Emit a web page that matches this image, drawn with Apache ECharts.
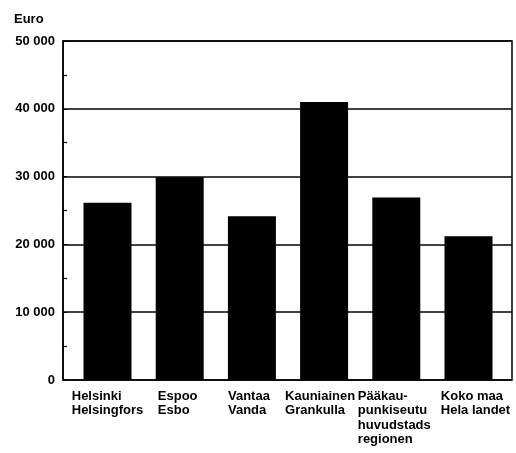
<!DOCTYPE html>
<html>
<head>
<meta charset="utf-8">
<script src="https://cdn.jsdelivr.net/npm/echarts@6/dist/echarts.min.js"></script>
<style>
html,body{margin:0;padding:0;background:#fff;}
#c{width:516px;height:453px;}
</style>
</head>
<body>
<div id="c"></div>
<script>
// Data
var categories = [
  'Helsinki\nHelsingfors',
  'Espoo\nEsbo',
  'Vantaa\nVanda',
  'Kauniainen\nGrankulla',
  'Pääkau-\npunkiseutu\nhuvudstads\nregionen',
  'Koko maa\nHela landet'
];
var values = [26150, 29900, 24150, 41000, 26900, 21200];
var yTickMin = 0, yTickMax = 50000, yTickStep = 10000;
var unitLabel = 'Euro';

var FONT = '"Liberation Sans", Arial, sans-serif';
var chart = echarts.init(document.getElementById('c'), null, {renderer: 'canvas'});

// small per-label horizontal nudges (layout only)
var labelPad = [[0,0,0,0],[0,4,0,0],[0,6,0,0],[0,8,0,0],[0,4,0,0],[0,0,0,14]];

var option = {
  animation: false,
  backgroundColor: '#fff',
  textStyle: {fontFamily: FONT},
  title: {
    text: unitLabel,
    left: 9, top: 8,
    textStyle: {fontFamily: FONT, fontSize: 13, fontWeight: 'bold', color: '#000'}
  },
  grid: [
    {left: 63, right: 4, top: 41, bottom: 73, show: true, borderColor: '#000', borderWidth: 1.5, containLabel: false},
    {left: 71.4, right: 11.4, top: 41, bottom: 73, containLabel: false}
  ],
  xAxis: [
    {gridIndex: 0, type: 'category', data: categories, show: false},
    {
      gridIndex: 1, type: 'category', data: categories.map(function (c, i) {
        return {value: c, textStyle: {padding: labelPad[i]}};
      }),
      axisLine: {show: false}, axisTick: {show: false},
      axisLabel: {
        interval: 0, margin: 9, color: '#000',
        fontFamily: FONT, fontSize: 13, fontWeight: 'bold',
        lineHeight: 14.5,
        formatter: function (v) { return '{a|' + v.split('\n').join('}\n{a|') + '}'; },
        rich: {a: {align: 'left', fontFamily: FONT, fontSize: 13, fontWeight: 'bold', color: '#000', lineHeight: 14.5}}
      }
    }
  ],
  yAxis: [
    {
      gridIndex: 0, type: 'value', min: yTickMin, max: yTickMax, interval: yTickStep,
      axisLine: {show: true, lineStyle: {color: '#000', width: 1.5}},
      axisTick: {show: true, inside: true, length: 4, lineStyle: {color: '#000'}},
      minorTick: {show: true, splitNumber: 2, length: 4, lineStyle: {color: '#000', width: 1.2}},
      splitLine: {show: true, lineStyle: {color: '#000', width: 1.5}},
      axisLabel: {
        margin: 8, color: '#000', fontFamily: FONT, fontSize: 13, fontWeight: 'bold',
        formatter: function (v) {
          return String(v).replace(/\B(?=(\d{3})+(?!\d))/g, ' ');
        }
      }
    },
    {gridIndex: 1, type: 'value', min: yTickMin, max: yTickMax, interval: yTickStep, show: false, splitLine: {show: false}}
  ],
  series: [{
    type: 'bar',
    xAxisIndex: 1, yAxisIndex: 1,
    data: values,
    barWidth: 48,
    itemStyle: {color: '#000'}
  }]
};
chart.setOption(option);
</script>
</body>
</html>
